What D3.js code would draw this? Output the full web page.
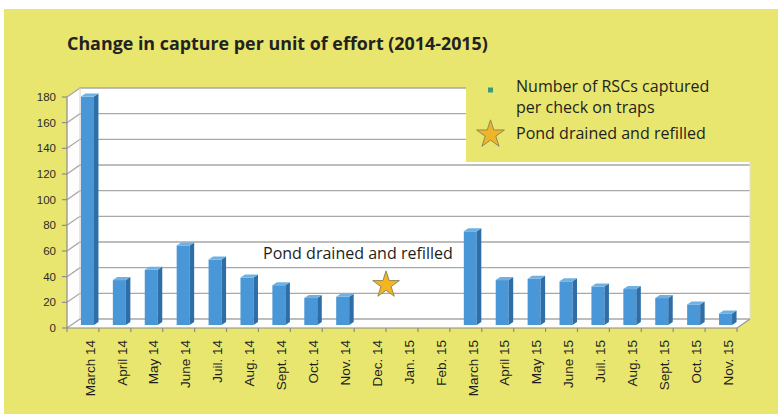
<!DOCTYPE html>
<html><head><meta charset="utf-8">
<script src="https://cdn.jsdelivr.net/npm/d3@7"></script>
<style>html,body{margin:0;padding:0;background:#fff;}svg{display:block;}</style>
</head><body>
<svg id="chart" width="778" height="414"></svg>
<script>
const categories = ["March 14","April 14","May 14","June 14","Juil. 14","Aug. 14","Sept. 14","Oct. 14","Nov. 14","Dec. 14","Jan. 15","Feb. 15","March 15","April 15","May 15","June 15","Juil. 15","Aug. 15","Sept. 15","Oct. 15","Nov. 15"];
const captures = [178, 35, 43, 62, 51, 37, 31, 21, 22, null, null, null, 73, 35, 36, 34, 30, 28, 21, 16, 9];
const yTicks = [0, 20, 40, 60, 80, 100, 120, 140, 160, 180];
const titleText = "Change in capture per unit of effort (2014-2015)";
const legendLabels = [["Number of RSCs captured", "per check on traps"], ["Pond drained and refilled"]];
const eventLabel = "Pond drained and refilled";
const eventAfter = "Dec. 14";
const eventValue = 32;

const svg = d3.select("#chart");
const YEL = "#e8e66e";
const DX = 13, DY = 9;       // depth of the 3D box
const BDX = 4.5, BDY = 3;    // bar offset / depth

const x = d3.scaleBand().domain(categories).range([67, 737]).padding(0);
const y = d3.scaleLinear().domain([0, 180]).range([328, 97]);
const x0 = x.range()[0], x1 = x.range()[1], yb = y(0), yt = y(180);

svg.append("rect").attr("x", 4).attr("y", 9).attr("width", 774).attr("height", 405).attr("fill", YEL);

// walls
svg.append("rect").attr("x", x0 + DX).attr("y", yt - DY).attr("width", x1 - x0).attr("height", yb - yt).attr("fill", "#fff");
svg.append("path").attr("d", `M${x0},${yb}L${x0+DX},${yb-DY}L${x0+DX},${yt-DY}L${x0},${yt}Z`).attr("fill", "#fdfdfd");
svg.append("path").attr("d", `M${x0},${yb}L${x1},${yb}L${x1+DX},${yb-DY}L${x0+DX},${yb-DY}Z`).attr("fill", "#fdfdfd");

const grid = svg.append("g").attr("stroke", "#a8a8a8").attr("stroke-width", 1.3).attr("fill", "none");
yTicks.forEach(v => {
  grid.append("path").attr("d", `M${x0},${y(v)}L${x0+DX},${y(v)-DY}L${x1+DX},${y(v)-DY}`);
});
grid.append("path").attr("d", `M${x0+DX},${yb-DY}L${x0+DX},${yt-DY}`).attr("stroke", "#d0d0d0").attr("stroke-width", 1);
grid.append("path").attr("d", `M${x1+DX},${yb-DY}L${x1+DX},${yt-DY}`).attr("stroke", "#e0e0e0").attr("stroke-width", 1);
grid.append("path").attr("d", `M${x1},${yb}L${x1+DX},${yb-DY}`).attr("stroke", "#9a9a9a");

// axes
const ax = svg.append("g").attr("stroke", "#8c8c8c").attr("stroke-width", 1.2);
ax.append("line").attr("x1", x0).attr("x2", x0).attr("y1", yb).attr("y2", yt);
ax.append("line").attr("x1", x0).attr("x2", x1).attr("y1", yb).attr("y2", yb);
yTicks.forEach(v => ax.append("line").attr("x1", x0 - 5).attr("x2", x0).attr("y1", y(v)).attr("y2", y(v)));
categories.forEach(c => ax.append("line").attr("x1", x(c)).attr("x2", x(c)).attr("y1", yb).attr("y2", yb + 4));
ax.append("line").attr("x1", x1).attr("x2", x1).attr("y1", yb).attr("y2", yb + 4);

svg.append("g").selectAll("text").data(yTicks).join("text")
  .attr("x", x0 - 11).attr("y", d => y(d)).attr("dy", "0.36em")
  .attr("text-anchor", "end").attr("font-family", "Liberation Sans, Arial, sans-serif")
  .attr("font-size", 11.5).attr("fill", "#2a2a2a").text(d => d);

svg.append("g").selectAll("text").data(categories).join("text")
  .attr("transform", d => `translate(${x(d) + x.bandwidth()/2 + 7},${yb + 12}) rotate(-90)`)
  .attr("dy", "0.35em").attr("text-anchor", "end")
  .attr("font-family", "Liberation Sans, Arial, sans-serif").attr("font-size", 13.5)
  .attr("fill", "#1e1e1e").text(d => d);

// bars
const bw = 13;
const bars = svg.append("g").selectAll("g").data(categories.map((c, i) => ({c, v: captures[i]})).filter(d => d.v != null)).join("g");
bars.each(function(d) {
  const g = d3.select(this);
  const bx = x(d.c) + x.bandwidth()/2 - bw/2 + BDX;
  const top = y(d.v) - BDY, bot = yb - BDY;
  g.append("rect").attr("x", bx).attr("y", top).attr("width", bw).attr("height", bot - top).attr("fill", "#4a97d7");
  g.append("path").attr("d", `M${bx+bw},${top}L${bx+bw+BDX},${top-BDY}L${bx+bw+BDX},${bot-BDY}L${bx+bw},${bot}Z`).attr("fill", "#2e6ea6");
  g.append("path").attr("d", `M${bx},${top}L${bx+BDX},${top-BDY}L${bx+bw+BDX},${top-BDY}L${bx+bw},${top}Z`).attr("fill", "#6fb1e3");
});

// title
const sans = "Open Sans, Noto Sans, sans-serif";
function fitText(sel, w) {
  const len = sel.node().getComputedTextLength();
  const fs = parseFloat(sel.attr("font-size"));
  const nfs = +(fs * w / len).toFixed(2);
  sel.attr("font-size", nfs);
  return nfs;
}
const title = svg.append("text").attr("x", 67).attr("y", 50).attr("font-family", sans)
  .attr("font-weight", "bold").attr("font-size", 17).attr("fill", "#222").text(titleText);
fitText(title, 421);

// event annotation
const ex = x(eventAfter) + x.bandwidth();
const ann = svg.append("text").attr("x", 263).attr("y", 259).attr("font-family", sans).attr("font-size", 15)
  .attr("fill", "#1e1e1e").text(eventLabel);
const fsA = fitText(ann, 190);
const star = d3.symbol().type(d3.symbolStar);
svg.append("path").attr("d", star.size(220)()).attr("transform", `translate(${ex},${y(eventValue) - 2})`)
  .attr("fill", "#f4b521").attr("stroke", "#8e8a55").attr("stroke-width", 1);

// legend box
svg.append("rect").attr("x", 466).attr("y", 60).attr("width", 312).attr("height", 102).attr("fill", YEL);
svg.append("rect").attr("x", 488).attr("y", 87.5).attr("width", 5).attr("height", 5).attr("fill", "#3b9a7e");
const l1 = svg.append("text").attr("font-family", sans).attr("font-size", fsA).attr("fill", "#231f20");
l1.append("tspan").attr("x", 516).attr("y", 92).text(legendLabels[0][0]);
l1.append("tspan").attr("x", 516).attr("y", 112.5).text(legendLabels[0][1]);
svg.append("path").attr("d", star.size(240)()).attr("transform", "translate(490.5,134.5)")
  .attr("fill", "#f0b429").attr("stroke", "#8e8a55").attr("stroke-width", 1);
svg.append("text").attr("x", 516).attr("y", 138.5).attr("font-family", sans).attr("font-size", fsA)
  .attr("fill", "#231f20").text(legendLabels[1][0]);
</script>
</body></html>
